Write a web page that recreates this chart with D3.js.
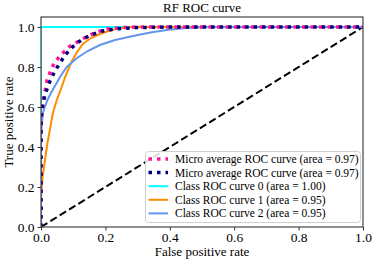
<!DOCTYPE html>
<html><head><meta charset="utf-8">
<script src="https://cdn.jsdelivr.net/npm/d3@7"></script>
<style>body{margin:0;background:#fff}svg{display:block}text{font-family:"Liberation Serif","Times New Roman",serif !important;fill:#000}</style>
</head><body><svg id="c" width="373" height="261"></svg>
<script>
const microFpr = [0,0,0,0.003,0.006,0.012,0.019,0.031,0.043,0.065,0.087,0.118,0.146,0.174,0.205,0.25,0.3,1];
const microTpr = [0,0.3,0.5,0.58,0.62,0.675,0.735,0.785,0.825,0.865,0.9,0.93,0.955,0.975,0.99,0.997,1,1];
const macroFpr = [0,0,0,0.006,0.015,0.028,0.043,0.059,0.075,0.098,0.125,0.155,0.19,0.23,0.3,0.4,1];
const macroTpr = [0,0.3,0.55,0.62,0.675,0.73,0.78,0.82,0.86,0.9,0.935,0.96,0.98,0.99,0.997,1,1];
const c0Fpr = [0,0,1];
const c0Tpr = [0,1,1];
const c1Fpr = [0,0,0.005,0.012,0.02,0.028,0.037,0.05,0.062,0.075,0.093,0.11,0.13,0.155,0.183,0.21,0.24,0.28,1];
const c1Tpr = [0,0.15,0.25,0.33,0.42,0.49,0.57,0.64,0.69,0.75,0.82,0.87,0.915,0.945,0.965,0.98,0.993,1,1];
const c2Fpr = [0,0,0.003,0.006,0.012,0.02,0.031,0.045,0.059,0.08,0.112,0.145,0.183,0.23,0.286,0.34,0.39,0.45,0.52,1];
const c2Tpr = [0,0.45,0.52,0.57,0.6,0.635,0.67,0.71,0.75,0.8,0.845,0.88,0.91,0.935,0.955,0.972,0.985,0.995,1,1];
const labels = ["Micro average ROC curve (area = 0.97)","Micro average ROC curve (area = 0.97)",
  "Class ROC curve 0 (area = 1.00)","Class ROC curve 1 (area = 0.95)","Class ROC curve 2 (area = 0.95)"];
const ticks = [0,0.2,0.4,0.6,0.8,1.0];

const svg = d3.select("#c");
const L=41,R=363,T=17,B=227;
const x = d3.scaleLinear().domain([0,1]).range([L,R]);
const y = d3.scaleLinear().domain([0,1.05]).range([B,T]);
const zip=(a,b)=>a.map((v,i)=>[v,b[i]]);
const line = d3.line().x(d=>x(d[0])).y(d=>y(d[1]));
const series = [
  {d:zip(c0Fpr,c0Tpr), c:"#00ffff", w:2, da:null},
  {d:zip(c1Fpr,c1Tpr), c:"#ff8c00", w:2, da:null},
  {d:zip(c2Fpr,c2Tpr), c:"#6495ed", w:2, da:null},
  {d:zip(microFpr,microTpr), c:"#ff1493", w:3.5, da:"3.5,5"},
  {d:zip(macroFpr,macroTpr), c:"#000080", w:3.5, da:"3.5,5"}
];
const g = svg.append("g");
svg.append("clipPath").attr("id","cp").append("rect").attr("x",L).attr("y",T-3).attr("width",R-L+3).attr("height",B-T+4);
const pg = g.append("g").attr("clip-path","url(#cp)");
pg.append("path").attr("d",line([[0,0],[1,1]])).attr("stroke","#000").attr("stroke-width",2).attr("stroke-dasharray","7.5,3.5").attr("fill","none");
series.forEach(s=>{
  pg.append("path").attr("d",line(s.d)).attr("stroke",s.c).attr("stroke-width",s.w)
    .attr("stroke-dasharray",s.da).attr("fill","none");
});
const xa = g.append("g").attr("transform",`translate(0,${B})`).call(d3.axisBottom(x).tickValues(ticks).tickFormat(d3.format(".1f")).tickSize(3.5).tickSizeOuter(0));
const ya = g.append("g").attr("transform",`translate(${L},0)`).call(d3.axisLeft(y).tickValues(ticks).tickFormat(d3.format(".1f")).tickSize(3.5).tickSizeOuter(0));
[xa,ya].forEach(a=>{a.attr("font-family","Liberation Serif").attr("font-size",13.5);a.select(".domain").remove();a.selectAll("line").attr("stroke","#333");a.selectAll("text").attr("fill","#000");});
xa.selectAll("text").attr("y",14.5).attr("dy",0);
g.append("rect").attr("x",L).attr("y",T).attr("width",R-L).attr("height",B-T).attr("fill","none").attr("stroke","#444").attr("stroke-width",1.2);
svg.append("text").attr("x",(L+R)/2).attr("y",12).attr("text-anchor","middle").attr("font-size","13px").text("RF ROC curve");
svg.append("text").attr("x",(L+R)/2).attr("y",256).attr("text-anchor","middle").attr("font-size","13px").text("False positive rate");
svg.append("text").attr("transform",`translate(13,${(T+B)/2}) rotate(-90)`).attr("text-anchor","middle").attr("font-size","13px").text("True positive rate");
const lg = svg.append("g");
lg.append("rect").attr("x",145.5).attr("y",151.5).attr("width",215).attr("height",71).attr("rx",3)
  .attr("fill","rgba(255,255,255,0.85)").attr("stroke","#d0d0d0");
const legSeries=[series[3],series[4],series[0],series[1],series[2]];
legSeries.forEach((s,i)=>{
  const yy=159+i*13.6;
  lg.append("line").attr("x1",148.5).attr("x2",168).attr("y1",yy).attr("y2",yy).attr("stroke",s.c).attr("stroke-width",s.w).attr("stroke-dasharray",s.da);
  lg.append("text").attr("x",175).attr("y",yy).attr("dy","0.35em").attr("font-size","11.5px").text(labels[i]);
});
</script></body></html>
